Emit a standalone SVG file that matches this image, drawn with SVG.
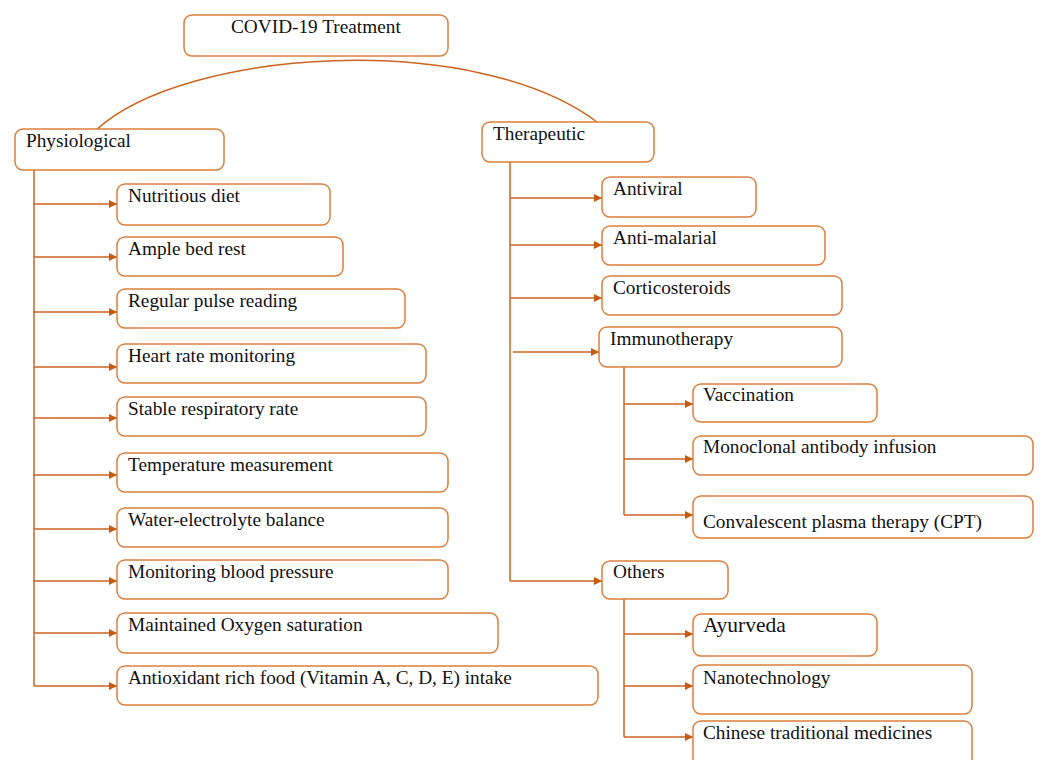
<svg xmlns="http://www.w3.org/2000/svg" width="1040" height="760" viewBox="0 0 1040 760">
<style>
.box{fill:#fff;stroke:#DA7F3C;stroke-width:1.5}
.t{font-family:"Liberation Serif","Times New Roman",serif;font-size:19.3px;fill:#111}
.c{fill:none;stroke:#CB6420;stroke-width:1.5}
</style>
<defs>
<marker id="ah" markerUnits="userSpaceOnUse" markerWidth="9" markerHeight="8" refX="8" refY="4" orient="auto">
<path d="M0,0 L8,4 L0,8 z" fill="#C55A11"/>
</marker>
</defs>
<rect width="1040" height="760" fill="#fff"/>
<g id="connectors">
<path class="c" d="M96,130 C185,48 475,30 597,122"/>
<path class="c" d="M34,169 V686"/>
<path class="c" marker-end="url(#ah)" d="M34,204 H117"/>
<path class="c" marker-end="url(#ah)" d="M34,257 H117"/>
<path class="c" marker-end="url(#ah)" d="M34,312 H117"/>
<path class="c" marker-end="url(#ah)" d="M34,367 H117"/>
<path class="c" marker-end="url(#ah)" d="M34,418 H117"/>
<path class="c" marker-end="url(#ah)" d="M34,475 H117"/>
<path class="c" marker-end="url(#ah)" d="M34,529 H117"/>
<path class="c" marker-end="url(#ah)" d="M34,581 H117"/>
<path class="c" marker-end="url(#ah)" d="M34,633 H117"/>
<path class="c" marker-end="url(#ah)" d="M34,686 H117"/>
<path class="c" d="M510,162 V581"/>
<path class="c" marker-end="url(#ah)" d="M510,198 H602"/>
<path class="c" marker-end="url(#ah)" d="M510,245 H602"/>
<path class="c" marker-end="url(#ah)" d="M510,298 H602"/>
<path class="c" marker-end="url(#ah)" d="M513,352 H599"/>
<path class="c" marker-end="url(#ah)" d="M510,581 H602"/>
<path class="c" d="M624,367 V515"/>
<path class="c" marker-end="url(#ah)" d="M624,404 H693"/>
<path class="c" marker-end="url(#ah)" d="M624,459 H693"/>
<path class="c" marker-end="url(#ah)" d="M624,515 H693"/>
<path class="c" d="M624,599 V737"/>
<path class="c" marker-end="url(#ah)" d="M624,634 H693"/>
<path class="c" marker-end="url(#ah)" d="M624,686 H693"/>
<path class="c" marker-end="url(#ah)" d="M624,737 H693"/>
</g>
<g id="root"><rect class="box" x="184" y="15" width="264" height="41" rx="8"/><text class="t" x="231" y="33">COVID-19 Treatment</text></g>
<g id="physiological"><rect class="box" x="15" y="129" width="209" height="41" rx="8"/><text class="t" x="26" y="147">Physiological</text></g>
<g id="therapeutic"><rect class="box" x="482" y="122" width="172" height="40" rx="8"/><text class="t" x="493" y="140">Therapeutic</text></g>
<g id="p1"><rect class="box" x="117" y="184" width="213" height="41" rx="8"/><text class="t" x="128" y="202">Nutritious diet</text></g>
<g id="p2"><rect class="box" x="117" y="237" width="226" height="39" rx="8"/><text class="t" x="128" y="255">Ample bed rest</text></g>
<g id="p3"><rect class="box" x="117" y="289" width="288" height="39" rx="8"/><text class="t" x="128" y="307">Regular pulse reading</text></g>
<g id="p4"><rect class="box" x="117" y="344" width="309" height="39" rx="8"/><text class="t" x="128" y="362">Heart rate monitoring</text></g>
<g id="p5"><rect class="box" x="117" y="397" width="309" height="39" rx="8"/><text class="t" x="128" y="415">Stable respiratory rate</text></g>
<g id="p6"><rect class="box" x="117" y="453" width="331" height="39" rx="8"/><text class="t" x="128" y="471">Temperature measurement</text></g>
<g id="p7"><rect class="box" x="117" y="508" width="331" height="39" rx="8"/><text class="t" x="128" y="526">Water-electrolyte balance</text></g>
<g id="p8"><rect class="box" x="117" y="560" width="331" height="39" rx="8"/><text class="t" x="128" y="578">Monitoring blood pressure</text></g>
<g id="p9"><rect class="box" x="117" y="613" width="381" height="40" rx="8"/><text class="t" x="128" y="631">Maintained Oxygen saturation</text></g>
<g id="p10"><rect class="box" x="117" y="666" width="481" height="39" rx="8"/><text class="t" x="128" y="684">Antioxidant rich food (Vitamin A, C, D, E) intake</text></g>
<g id="antiviral"><rect class="box" x="602" y="177" width="154" height="40" rx="8"/><text class="t" x="613" y="195">Antiviral</text></g>
<g id="antimalarial"><rect class="box" x="602" y="226" width="223" height="39" rx="8"/><text class="t" x="613" y="244">Anti-malarial</text></g>
<g id="corticosteroids"><rect class="box" x="602" y="276" width="240" height="39" rx="8"/><text class="t" x="613" y="294">Corticosteroids</text></g>
<g id="immunotherapy"><rect class="box" x="599" y="327" width="243" height="40" rx="8"/><text class="t" x="610" y="345">Immunotherapy</text></g>
<g id="vaccination"><rect class="box" x="693" y="384" width="184" height="38" rx="8"/><text class="t" x="703" y="401">Vaccination</text></g>
<g id="monoclonal"><rect class="box" x="693" y="436" width="340" height="39" rx="8"/><text class="t" x="703" y="453">Monoclonal antibody infusion</text></g>
<g id="cpt"><rect class="box" x="693" y="496" width="340" height="42" rx="8"/><text class="t" x="703" y="528">Convalescent plasma therapy (CPT)</text></g>
<g id="others"><rect class="box" x="602" y="561" width="126" height="38" rx="8"/><text class="t" x="613" y="578">Others</text></g>
<g id="ayurveda"><rect class="box" x="693" y="614" width="184" height="42" rx="8"/><text class="t" x="703" y="632" style="font-size:21.5px">Ayurveda</text></g>
<g id="nanotechnology"><rect class="box" x="693" y="665" width="279" height="49" rx="8"/><text class="t" x="703" y="684">Nanotechnology</text></g>
<g id="chinese"><rect class="box" x="693" y="721" width="279" height="60" rx="8"/><text class="t" x="703" y="739">Chinese traditional medicines</text></g>
</svg>
